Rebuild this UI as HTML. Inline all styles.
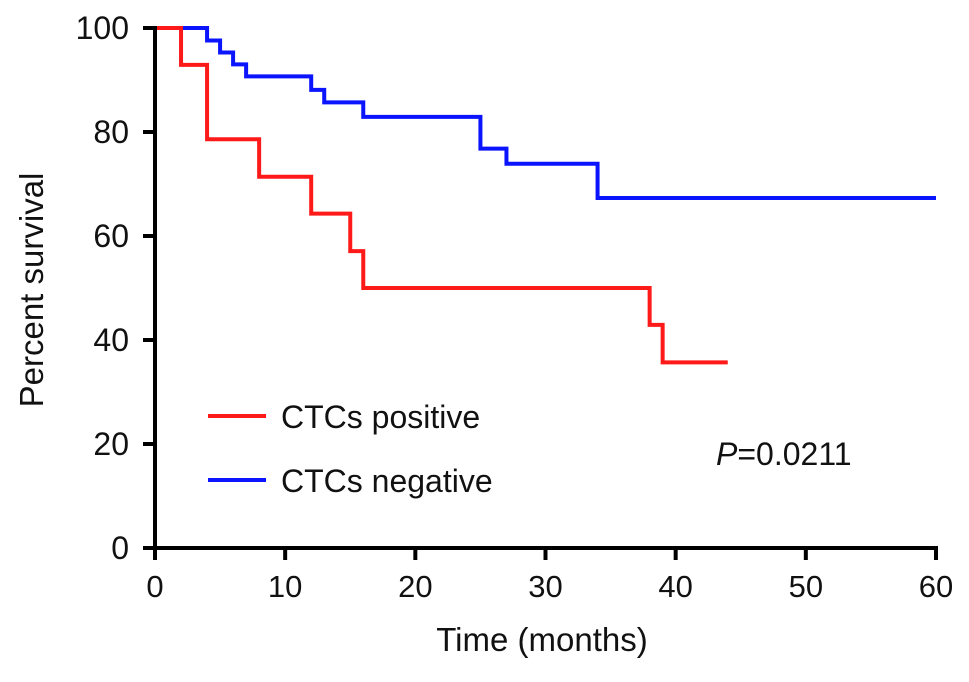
<!DOCTYPE html>
<html><head><meta charset="utf-8"><style>
html,body{margin:0;padding:0;background:#fff;}
svg text{font-family:"Liberation Sans",Arial,sans-serif;fill:#111;}
</style></head><body>
<svg width="969" height="677" viewBox="0 0 969 677">
<g id="chart"></g>
</svg>
<script>
const xTicks=[0,10,20,30,40,50,60];
const yTicks=[0,20,40,60,80,100];
const posTimes=[0,2,4,8,12,15,16,38,39,44];
const posSurv=[100,92.9,78.6,71.4,64.3,57.1,50,42.9,35.7,35.7];
const negTimes=[0,4,5,6,7,12,13,16,25,27,34,60];
const negSurv=[100,97.6,95.3,93.0,90.7,88.1,85.7,82.9,76.8,73.9,67.3,67.3];
const NS='http://www.w3.org/2000/svg';
const g=document.getElementById('chart');
const X=v=>155+v*(936-155)/60;
const Y=v=>548-v*(548-28)/100;
function mk(t,a){const e=document.createElementNS(NS,t);for(const k in a)e.setAttribute(k,a[k]);g.appendChild(e);return e;}
function stepPath(ts,ss){let d='M'+X(ts[0])+','+Y(ss[0]);for(let i=1;i<ts.length;i++){d+=' H'+X(ts[i])+' V'+Y(ss[i]);}return d;}
let e;
e=mk('path',{d:stepPath(negTimes,negSurv),fill:'none',stroke:'#0a14ff','stroke-width':4});


e=mk('path',{d:stepPath(posTimes,posSurv),fill:'none',stroke:'#ff1a1a','stroke-width':4});


e=mk('line',{x1:155,y1:26,x2:155,y2:550,stroke:'#000','stroke-width':4});


e=mk('line',{x1:153,y1:548,x2:938,y2:548,stroke:'#000','stroke-width':4});


xTicks.forEach(v=>{
 e=mk('line',{x1:X(v),y1:548,x2:X(v),y2:560,stroke:'#000','stroke-width':4});
 
 
 e=mk('text',{x:X(v),y:597,'text-anchor':'middle','font-size':31});e.textContent=v;
 
 
});
yTicks.forEach(v=>{
 e=mk('line',{x1:143,y1:Y(v),x2:155,y2:Y(v),stroke:'#000','stroke-width':4});
 
 
 e=mk('text',{x:129,y:Y(v)+11,'text-anchor':'end','font-size':32});e.textContent=v;
 
 
});
e=mk('text',{x:542,y:651,'text-anchor':'middle','font-size':33});e.textContent='Time (months)';


e=mk('text',{x:0,y:0,'text-anchor':'middle','font-size':33,transform:'translate(43,290) rotate(-90)'});e.textContent='Percent survival';


e=mk('line',{x1:208,y1:416,x2:266,y2:416,stroke:'#ff1a1a','stroke-width':4});


e=mk('text',{x:281,y:428,'font-size':32});e.textContent='CTCs positive';


e=mk('line',{x1:208,y1:480,x2:266,y2:480,stroke:'#0a14ff','stroke-width':4});


e=mk('text',{x:281,y:492,'font-size':32});e.textContent='CTCs negative';


e=mk('text',{x:716,y:465,'font-size':32});
e.innerHTML='<tspan font-style="italic">P</tspan>=0.0211';


</script>
</body></html>
